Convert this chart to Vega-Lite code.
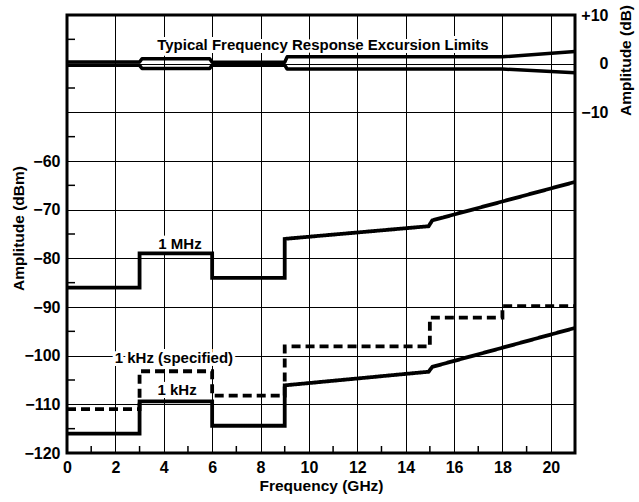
{
  "$schema": "https://vega.github.io/schema/vega-lite/v6.json",
  "width": 508,
  "height": 438,
  "autosize": "none",
  "padding": {"left": 67, "top": 15, "right": 64, "bottom": 49},
  "background": "white",
  "config": {
    "view": {"stroke": "black", "strokeWidth": 3},
    "font": "Liberation Sans",
    "axis": {
      "labelFont": "Liberation Sans", "labelFontWeight": "bold", "labelFontSize": 16, "labelColor": "black",
      "titleFont": "Liberation Sans", "titleFontWeight": "bold", "titleFontSize": 15.5, "titleColor": "black",
      "domain": false, "gridColor": "black", "gridWidth": 1, "ticks": false
    }
  },
  "datasets": {
    "curves": [
      {"series": "1 MHz", "seq": 1, "f": 0, "a": -86},
      {"series": "1 MHz", "seq": 2, "f": 3, "a": -86},
      {"series": "1 MHz", "seq": 3, "f": 3, "a": -79},
      {"series": "1 MHz", "seq": 4, "f": 6, "a": -79},
      {"series": "1 MHz", "seq": 5, "f": 6, "a": -84},
      {"series": "1 MHz", "seq": 6, "f": 9, "a": -84},
      {"series": "1 MHz", "seq": 7, "f": 9, "a": -76},
      {"series": "1 MHz", "seq": 8, "f": 14.95, "a": -73.4},
      {"series": "1 MHz", "seq": 9, "f": 15.1, "a": -72.2},
      {"series": "1 MHz", "seq": 10, "f": 21, "a": -64.3},
      {"series": "1 kHz", "seq": 1, "f": 0, "a": -116},
      {"series": "1 kHz", "seq": 2, "f": 3, "a": -116},
      {"series": "1 kHz", "seq": 3, "f": 3, "a": -109.4},
      {"series": "1 kHz", "seq": 4, "f": 6, "a": -109.4},
      {"series": "1 kHz", "seq": 5, "f": 6, "a": -114.4},
      {"series": "1 kHz", "seq": 6, "f": 9, "a": -114.4},
      {"series": "1 kHz", "seq": 7, "f": 9, "a": -106.1},
      {"series": "1 kHz", "seq": 8, "f": 14.95, "a": -103.3},
      {"series": "1 kHz", "seq": 9, "f": 15.1, "a": -102.3},
      {"series": "1 kHz", "seq": 10, "f": 21, "a": -94.3},
      {"series": "1 kHz (specified)", "seq": 1, "f": 0, "a": -111},
      {"series": "1 kHz (specified)", "seq": 2, "f": 3, "a": -111},
      {"series": "1 kHz (specified)", "seq": 3, "f": 3, "a": -103.2},
      {"series": "1 kHz (specified)", "seq": 4, "f": 6, "a": -103.2},
      {"series": "1 kHz (specified)", "seq": 5, "f": 6, "a": -108.2},
      {"series": "1 kHz (specified)", "seq": 6, "f": 9, "a": -108.2},
      {"series": "1 kHz (specified)", "seq": 7, "f": 9, "a": -98.1},
      {"series": "1 kHz (specified)", "seq": 8, "f": 15, "a": -98.1},
      {"series": "1 kHz (specified)", "seq": 9, "f": 15, "a": -92.2},
      {"series": "1 kHz (specified)", "seq": 10, "f": 18, "a": -92.2},
      {"series": "1 kHz (specified)", "seq": 11, "f": 18, "a": -89.8},
      {"series": "1 kHz (specified)", "seq": 12, "f": 21, "a": -89.8}
    ],
    "limits": [
      {"limit": "upper", "seq": 1, "f": 0, "db": 0.35},
      {"limit": "upper", "seq": 2, "f": 3, "db": 0.35},
      {"limit": "upper", "seq": 3, "f": 3.1, "db": 1.0},
      {"limit": "upper", "seq": 4, "f": 5.9, "db": 1.0},
      {"limit": "upper", "seq": 5, "f": 6, "db": 0.3},
      {"limit": "upper", "seq": 6, "f": 9, "db": 0.3},
      {"limit": "upper", "seq": 7, "f": 9.1, "db": 1.4},
      {"limit": "upper", "seq": 8, "f": 18, "db": 1.4},
      {"limit": "upper", "seq": 9, "f": 21, "db": 2.5},
      {"limit": "lower", "seq": 1, "f": 0, "db": -0.35},
      {"limit": "lower", "seq": 2, "f": 3, "db": -0.35},
      {"limit": "lower", "seq": 3, "f": 3.1, "db": -1.0},
      {"limit": "lower", "seq": 4, "f": 5.9, "db": -1.0},
      {"limit": "lower", "seq": 5, "f": 6, "db": -0.3},
      {"limit": "lower", "seq": 6, "f": 9, "db": -0.3},
      {"limit": "lower", "seq": 7, "f": 9.1, "db": -1.1},
      {"limit": "lower", "seq": 8, "f": 18, "db": -1.1},
      {"limit": "lower", "seq": 9, "f": 21, "db": -1.85}
    ],
    "labels": [
      {"label": "Typical Frequency Response Excursion Limits", "f": 10.58, "a": -36.2},
      {"label": "1 MHz", "f": 4.67, "a": -77.1},
      {"label": "1 kHz (specified)", "f": 4.42, "a": -100.5},
      {"label": "1 kHz", "f": 4.55, "a": -107.1}
    ],
    "minor_f": [
      {"f": 1}, {"f": 3}, {"f": 5}, {"f": 7}, {"f": 9}, {"f": 11}, {"f": 13}, {"f": 15}, {"f": 17}, {"f": 19}
    ],
    "minor_a": [
      {"a": -115}, {"a": -105}, {"a": -95}, {"a": -85}, {"a": -75}, {"a": -65}, {"a": -55}, {"a": -45}, {"a": -35}
    ]
  },
  "layer": [
    {
      "layer": [
        {
          "data": {"name": "labels"},
          "mark": {"type": "text", "font": "Liberation Sans", "fontWeight": "bold", "fontSize": 15, "color": "white", "stroke": "white", "strokeWidth": 6, "align": "center", "baseline": "middle"},
          "encoding": {
            "x": {
              "field": "f", "type": "quantitative",
              "scale": {"domain": [0, 21], "nice": false, "zero": false},
              "axis": {
                "title": "Frequency (GHz)",
                "values": [0,2,4,6,8,10,12,14,16,18,20],
                "labelPadding": 6,
                "labelFlush": false,
                "labelOverlap": false,
                "titleY": 32,
                "titleBaseline": "middle"
              }
            },
            "y": {
              "field": "a", "type": "quantitative",
              "scale": {"domain": [-120, -30], "nice": false, "zero": false},
              "axis": {
                "title": "Amplitude (dBm)",
                "values": [-120,-110,-100,-90,-80,-70,-60,-50,-40],
                "labelExpr": "datum.value <= -60 ? replace(datum.label, '-', '\u2212') : ''",
                "labelPadding": 7,
                "labelFlush": false,
                "labelOverlap": false,
                "titleAngle": -90,
                "titleX": -49,
                "titleY": 213,
                "titleAlign": "center",
                "titleBaseline": "middle"
              }
            },
            "text": {"field": "label"}
          }
        },
        {
          "data": {"name": "curves"},
          "mark": {"type": "line", "color": "black", "strokeWidth": 3.8, "strokeJoin": "miter", "strokeCap": "butt"},
          "encoding": {
            "x": {"field": "f", "type": "quantitative"},
            "y": {"field": "a", "type": "quantitative"},
            "detail": {"field": "series"},
            "order": {"field": "seq"},
            "strokeDash": {
              "field": "series", "type": "nominal",
              "scale": {"domain": ["1 MHz", "1 kHz", "1 kHz (specified)"], "range": [[1, 0], [1, 0], [9, 5]]},
              "legend": null
            }
          }
        },
        {
          "data": {"name": "minor_f"},
          "mark": {"type": "tick", "orient": "vertical", "color": "black", "size": 14, "thickness": 1.5, "clip": true, "opacity": 1},
          "encoding": {
            "x": {"field": "f", "type": "quantitative"},
            "y": {"datum": -120}
          }
        },
        {
          "data": {"name": "minor_a"},
          "mark": {"type": "tick", "orient": "horizontal", "color": "black", "size": 16, "thickness": 1.5, "clip": true, "opacity": 1},
          "encoding": {
            "x": {"datum": 0},
            "y": {"field": "a", "type": "quantitative"}
          }
        },
        {
          "data": {"name": "labels"},
          "mark": {"type": "text", "font": "Liberation Sans", "fontWeight": "bold", "fontSize": 15, "color": "black", "align": "center", "baseline": "middle"},
          "encoding": {
            "x": {"field": "f", "type": "quantitative"},
            "y": {"field": "a", "type": "quantitative"},
            "text": {"field": "label"}
          }
        }
      ]
    },
    {
      "data": {"name": "limits"},
      "mark": {"type": "line", "color": "black", "strokeWidth": 3.5, "strokeJoin": "round"},
      "encoding": {
        "x": {"field": "f", "type": "quantitative"},
        "y": {
          "field": "db", "type": "quantitative",
          "scale": {"domain": [-80, 10], "nice": false, "zero": false},
          "axis": {
            "orient": "right",
            "title": "Amplitude (dB)",
            "values": [10, 0, -10],
            "labelExpr": "datum.value > 0 ? '+' + datum.label : replace(datum.label, '-', '\u2212')",
            "grid": false,
            "labelAlign": "right",
            "labelPadding": 33,
            "labelFlush": false,
            "labelOverlap": false,
            "titleAngle": 270,
            "titleX": 50,
            "titleY": 45,
            "titleAlign": "center",
            "titleBaseline": "middle"
          }
        },
        "detail": {"field": "limit"},
        "order": {"field": "seq"}
      }
    }
  ],
  "resolve": {"scale": {"y": "independent"}}
}
